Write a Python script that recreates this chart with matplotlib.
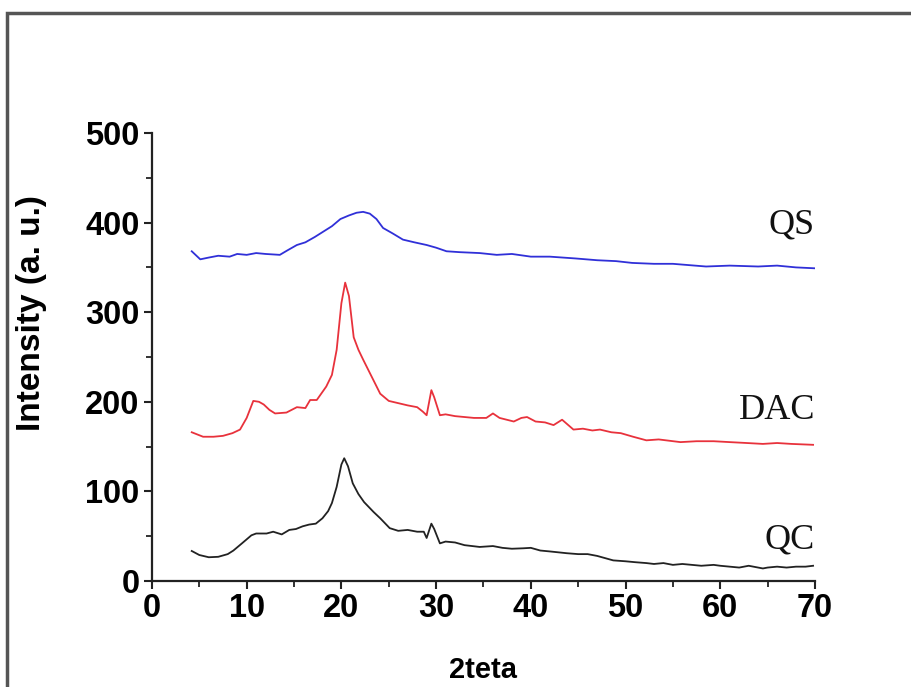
import matplotlib
matplotlib.use('Agg')
from matplotlib import pyplot as plt
from matplotlib.patches import Rectangle
from matplotlib.ticker import MultipleLocator

# QC (black)
qcX = [4.2, 5, 6, 7, 8, 8.6, 9.5, 10.5, 11, 12.1, 12.8, 13.7, 14.5, 15.2, 15.9, 16.6, 17.3, 18, 18.6, 19.0,
       19.5, 20.0, 20.3, 20.7, 21.2, 21.8, 22.4, 23.4, 24.1, 25.1, 26, 27, 28, 28.7, 29.0, 29.5, 29.8, 30.4, 31, 32,
       33, 34.6, 36, 37, 38, 39.2, 40, 41, 42, 43.8, 45, 46, 47, 48.7, 50, 51, 52.2, 53, 54, 55,
       56, 57, 58, 59.3, 60, 61, 62, 63, 64.5, 65, 66, 67, 68, 69, 69.8]
qcY = [33.5, 29, 26.5, 27, 30, 34, 42, 51, 53, 53, 55, 52, 57, 58, 61, 63, 64, 70, 78, 87,
       105, 130, 137, 128, 109, 97, 88, 77, 70, 59, 56, 57, 55, 55, 48, 64, 58, 42, 44, 43,
       40, 38, 39, 37, 36, 36.5, 37, 34, 33, 31, 30, 30, 28, 23, 22, 21, 20, 19, 20, 18,
       19, 18, 17, 18, 17, 16, 15, 17, 14, 15, 16, 15, 16, 16, 17]

# DAC (red)
dacX = [4.2, 5.4, 6.5, 7.5, 8.5, 9.3, 10, 10.7, 11.3, 11.8, 12.4, 13.0, 14.2, 15.3, 16.2, 16.7, 17.4, 18.4, 19.0, 19.5,
        20.0, 20.4, 20.8, 21.3, 21.8, 22.3, 23.2, 24.1, 25, 26.2, 27, 28.0, 28.6, 29.0, 29.5, 29.8, 30.4, 31, 32, 33,
        34, 35.3, 36.0, 36.7, 38.2, 39, 39.6, 40.5, 41.5, 42.4, 43.3, 44.5, 45.5, 46.5, 47.3, 48.5, 49.5, 50.8, 52.2, 53.5,
        55.8, 57.5, 59.3, 61, 62.8, 64.5, 66, 67.5, 69.8]
dacY = [166, 161, 161, 162, 165, 169, 182, 201, 200, 197, 191, 187, 188, 194, 193, 202, 202, 217, 230, 258,
        310, 333, 318, 272, 258, 247, 228, 209, 201, 198, 196, 194, 189, 185, 213, 205, 185, 186, 184, 183,
        182, 182, 187, 182, 178, 182, 183, 178, 177, 174, 180, 169, 170, 168, 169, 166, 165, 161, 157, 158,
        155, 156, 156, 155, 154, 153, 154, 153, 152]

# QS (blue)
qsX = [4.2, 5.1, 6, 7, 8.2, 9, 10, 11, 12, 13.5, 14.3, 15.3, 16.2, 17.2, 18.1, 19, 19.9, 20.8, 21.6, 22.3,
       23, 23.7, 24.4, 25.4, 26.5, 27.7, 29, 30, 31.1, 32.5, 34.6, 36.4, 38, 40, 42, 44.7, 47, 49, 50.7, 53,
       55, 58.5, 61, 64, 66, 68, 70]
qsY = [368, 359, 361, 363, 362, 365, 364, 366, 365, 364, 369, 375, 378, 384, 390, 396, 404, 408, 411, 412,
       410, 404, 394, 388, 381, 378, 375, 372, 368, 367, 366, 364, 365, 362, 362, 360, 358, 357, 355, 354,
       354, 351, 352, 351, 352, 350, 349]

labels = ['QS', 'DAC', 'QC']
labelY = [397, 190, 46]

fig = plt.figure(figsize=(9.11, 6.87), dpi=100)
ax = fig.add_axes([0.1668, 0.1543, 0.7278, 0.6521])

ax.plot(qcX, qcY, color='#222222', lw=1.3)
ax.plot(dacX, dacY, color='#e8323c', lw=1.3)
ax.plot(qsX, qsY, color='#3030d8', lw=1.3)

for name, yv in zip(labels, labelY):
    ax.text(70, yv, name, ha='right', va='center', fontsize=26, family='Liberation Serif', color='#111111')

ax.set_xlim(0, 70)
ax.set_ylim(0, 500)
ax.xaxis.set_major_locator(MultipleLocator(10))
ax.xaxis.set_minor_locator(MultipleLocator(5))
ax.yaxis.set_major_locator(MultipleLocator(100))
ax.yaxis.set_minor_locator(MultipleLocator(50))

for side in ['top', 'right']:
    ax.spines[side].set_visible(False)
for side in ['left', 'bottom']:
    ax.spines[side].set_linewidth(1.6)
    ax.spines[side].set_color('#222222')

ax.tick_params(which='major', direction='out', length=6, width=1.5, labelsize=23.5, pad=3, color='#222222')
ax.tick_params(which='minor', direction='out', length=4, width=1.3, color='#222222')
for lab in ax.get_xticklabels() + ax.get_yticklabels():
    lab.set_fontfamily('Liberation Sans')
    lab.set_fontweight('bold')

ax.set_xlabel('2teta', fontsize=21, fontweight='bold', family='Liberation Sans')
ax.set_ylabel('Intensity (a. u.)', fontsize=24, fontweight='bold', family='Liberation Sans')
ax.xaxis.set_label_coords(0.5, -0.168)
ax.yaxis.set_label_coords(-0.158, 0.597)

# outer frame of the original picture
fig.patches.append(Rectangle((7 / 911, -0.2), 1.2, 1.2 - 13 / 687, transform=fig.transFigure,
                             fill=False, edgecolor='#555555', lw=2.5, clip_on=False))

plt.savefig('out.png', dpi=100)
